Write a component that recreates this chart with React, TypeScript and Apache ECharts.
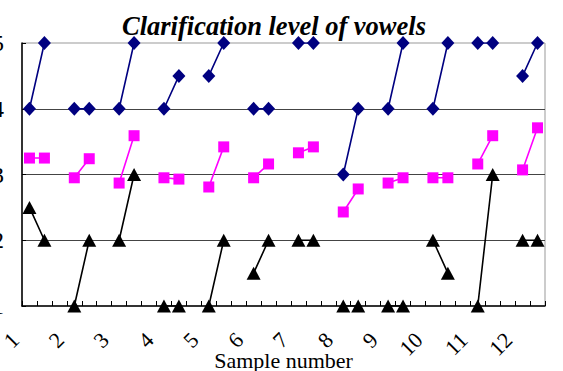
import React, { useEffect, useRef } from "react";
import * as echarts from "echarts";

// Sample numbers shown along the x axis
const sampleLabels = ["1", "2", "3", "4", "5", "6", "7", "8", "9", "10", "11", "12"];

// Each sample is rated twice; first and second ratings per sample
const diamondFirst = [4, 4, 4, 4, 4.5, 4, 5, 3, 4, 4, 5, 4.5];
const diamondSecond = [5, 4, 5, 4.5, 5, 4, 5, 4, 5, 5, 5, 5];

const squareFirst = [3.25, 2.95, 2.87, 2.95, 2.81, 2.95, 3.33, 2.43, 2.87, 2.95, 3.16, 3.07];
const squareSecond = [3.25, 3.24, 3.59, 2.93, 3.42, 3.16, 3.42, 2.78, 2.95, 2.95, 3.59, 3.71];

const triangleFirst = [2.5, 1, 2, 1, 1, 1.5, 2, 1, 1, 2, 1, 2];
const triangleSecond = [2, 2, 3, 1, 2, 2, 2, 1, 1, 1.5, 3, 2];

const yMin = 1;
const yMax = 5;
const yStep = 1;

// Three slots per sample (two ratings and a gap), last gap dropped
const slotCount = sampleLabels.length * 3 - 1;
const slotNames = Array.from({ length: slotCount }, (_, i) => String(i));

function toSlots(first: number[], second: number[]): (number | null)[] {
  const out: (number | null)[] = [];
  for (let k = 0; k < first.length; k++) {
    out.push(first[k], second[k]);
    if (k < first.length - 1) out.push(null);
  }
  return out;
}

const FONT = "Liberation Serif";

export default function App() {
  const ref = useRef<HTMLDivElement>(null);

  useEffect(() => {
    if (!ref.current) return;
    const chart = echarts.init(ref.current, null, { renderer: "svg" });

    const lineSeries = (
      name: string,
      data: (number | null)[],
      color: string,
      symbol: string,
      symbolSize: number | number[]
    ) => ({
      name,
      type: "line",
      data,
      connectNulls: false,
      symbol,
      symbolSize,
      showAllSymbol: true,
      lineStyle: { color, width: 1.6 },
      itemStyle: { color, borderWidth: 0 },
      z: 3,
    });

    chart.setOption({
      animation: false,
      backgroundColor: "#ffffff",
      title: {
        text: "Clarification level of vowels",
        left: 117,
        top: 7,
        textStyle: {
          fontFamily: FONT,
          fontSize: 26.5,
          fontWeight: "bold",
          fontStyle: "italic",
          color: "#000",
        },
      },
      grid: {
        left: 22,
        right: 18,
        top: 43,
        bottom: 65,
        show: true,
        borderColor: "#999",
        borderWidth: 1,
        containLabel: false,
        outerBoundsMode: "none",
      },
      xAxis: {
        type: "category",
        data: slotNames,
        boundaryGap: true,
        name: "Sample number",
        nameLocation: "middle",
        nameGap: 43,
        nameMoveOverlap: false,
        nameTextStyle: { fontFamily: FONT, fontSize: 22, color: "#000" },
        axisLine: { show: true, lineStyle: { color: "#000", width: 1.5 } },
        axisTick: {
          show: true,
          inside: true,
          length: 5,
          interval: 0,
          lineStyle: { color: "#000", width: 1 },
        },
        axisLabel: {
          interval: 0,
          rotate: 45,
          margin: 16,
          color: "#000",
          fontFamily: FONT,
          fontSize: 22,
          formatter: (_v: string, index: number) =>
            index % 3 === 0 ? `{t|${sampleLabels[index / 3]}}` : "",
          rich: {
            t: {
              fontFamily: FONT,
              fontSize: 22,
              color: "#000",
              padding: [0, 20, 0, 0],
            },
          },
        },
        splitLine: { show: false },
      },
      yAxis: {
        type: "value",
        min: yMin,
        max: yMax,
        interval: yStep,
        axisLine: { show: true, lineStyle: { color: "#000", width: 1.5 } },
        axisTick: { show: true, inside: true, length: 4, lineStyle: { color: "#000" } },
        axisLabel: {
          margin: 18,
          color: "#000",
          fontFamily: FONT,
          fontSize: 24,
        },
        splitLine: {
          show: true,
          showMinLine: false,
          showMaxLine: false,
          lineStyle: { color: "#444", width: 1 },
        },
      },
      series: [
        lineSeries("diamond", toSlots(diamondFirst, diamondSecond), "#000080", "diamond", [13, 14]),
        lineSeries("square", toSlots(squareFirst, squareSecond), "#ff00ff", "rect", 11),
        lineSeries("triangle", toSlots(triangleFirst, triangleSecond), "#000000", "triangle", [14, 13]),
      ],
    });

    return () => chart.dispose();
  }, []);

  return (
    <div
      ref={ref}
      style={{ position: "fixed", left: 0, top: 0, width: 563, height: 371 }}
    />
  );
}
